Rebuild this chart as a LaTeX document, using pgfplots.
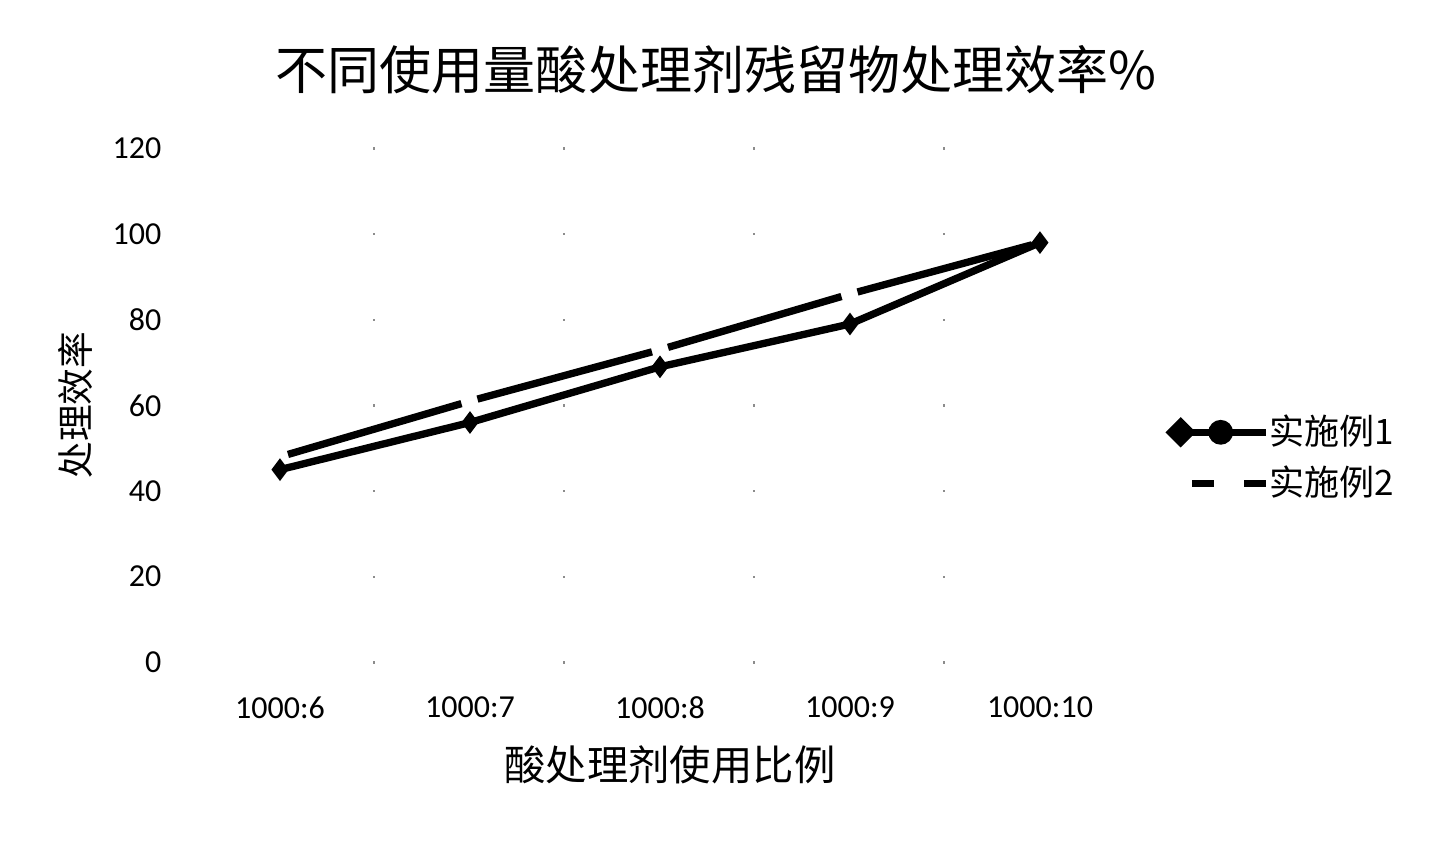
\documentclass[border=0pt]{standalone}
\usepackage{fontspec}
\setmainfont{Carlito}
\newfontfamily\cjk{Noto Sans CJK SC}
\usepackage{pgfplots}
\pgfplotsset{compat=1.18}
\begin{document}
\begin{tikzpicture}
\useasboundingbox (0,0) rectangle (430pt,251.9pt);
\begin{axis}[
  at={(55.47pt,53.28pt)}, anchor=south west,
  scale only axis, width=284.86pt, height=154.12pt,
  xmin=-0.5, xmax=4.5, ymin=0, ymax=120,
  axis line style={draw=none},
  xtick={0,1,2,3,4},
  xticklabels={1000:6,1000:7,1000:8,1000:9,1000:10},
  ytick={0,20,...,120},
  major tick length=0pt,
  /pgf/number format/assume math mode=true,
  tick label style={font=\fontsize{9.6}{11}\selectfont},
  yticklabel style={anchor=east, inner sep=0pt, xshift=-6.9pt},
  xticklabel style={anchor=center, inner sep=0pt, yshift=-13.5pt},
  ymajorgrids,
  grid style={black!45, line width=0.7pt,
    dash pattern=on 0.47pt off 56.5pt on 0.47pt off 56.5pt on 0.47pt off 56.5pt on 0.47pt off 56.5pt on 0.47pt off 56.5pt on 0pt off 60pt,
    dash phase=0.47pt},
  legend style={at={(1.033,0.398)}, anchor=west, draw=none, fill=none,
    inner sep=0pt, row sep=4.8pt,
    font=\cjk\fontsize{10.5}{12}\selectfont,
    nodes={inner sep=0pt, text height=8.8pt, text depth=1.7pt},
    /tikz/every odd column/.append style={column sep=0pt}},
  legend cell align=left,
]
\addplot[black, line width=2.2pt, mark=diamond*, mark size=3pt,
  mark options={solid, line width=0.5pt},
  legend image code/.code={
    \draw[black, line width=2.2pt] (0pt,0pt) -- (27pt,0pt);
    \fill[black] (-1.5pt,0pt) -- (1.5pt,3pt) -- (4.5pt,0pt) -- (1.5pt,-3pt) -- cycle;
    \fill[black] (13.5pt,0pt) circle (2.6pt);
  }]
  coordinates {(0,45) (1,56) (2,69) (3,79) (4,98)};
\addlegendentry{实施例1}
\addplot[black, line width=2.2pt, dash pattern=on 54.2pt off 5pt, dash phase=56.7pt,
  legend image code/.code={
    \draw[black, line width=2.2pt] (2.4pt,0pt) -- (11.4pt,0pt);
    \draw[black, line width=2.2pt] (18pt,0pt) -- (27pt,0pt);
  }]
  coordinates {(0,48) (1,61) (2,73) (3,86) (4,98)};
\addlegendentry{实施例2}
\end{axis}
\node[font=\cjk\fontsize{15.6}{18}\selectfont] at (214.7pt,230.9pt) {不同使用量酸处理剂残留物处理效率\%};
\node[font=\cjk\fontsize{11}{13}\selectfont, rotate=90] at (22.5pt,130.4pt) {处理效率};
\node[font=\cjk\fontsize{12.4}{14}\selectfont] at (200.9pt,22.5pt) {酸处理剂使用比例};
\end{tikzpicture}
\end{document}
